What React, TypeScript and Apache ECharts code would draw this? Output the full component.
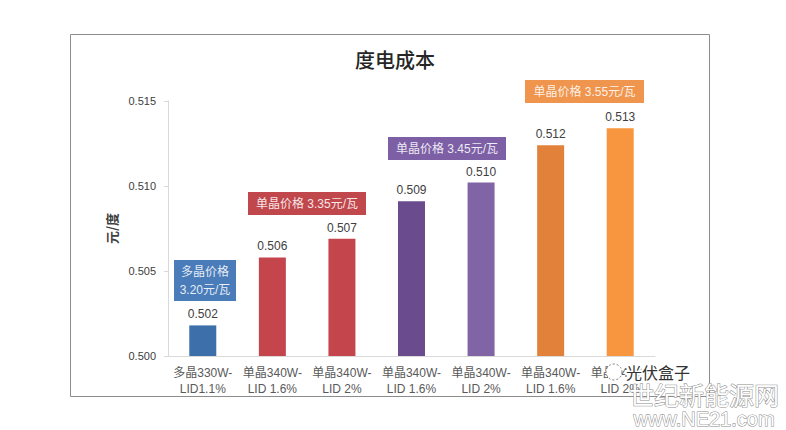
import React, { useEffect, useRef } from "react";
import * as echarts from "echarts";

const title = "度电成本";
const yAxisName = "元/度";
const categories = [
  "多晶330W-\nLID1.1%",
  "单晶340W-\nLID 1.6%",
  "单晶340W-\nLID 2%",
  "单晶340W-\nLID 1.6%",
  "单晶340W-\nLID 2%",
  "单晶340W-\nLID 1.6%",
  "单晶340W-\nLID 2%",
];
const values = [0.5018, 0.5058, 0.5069, 0.5091, 0.5102, 0.5124, 0.5134];
const barColors = ["#3d6fab", "#c4464c", "#c4464c", "#6a4c8e", "#8164a5", "#e2823a", "#f7963f"];
const yMin = 0.5;
const yMax = 0.515;
const yInterval = 0.005;

const annotationTexts = ["多晶价格\n3.20元/瓦", "单晶价格 3.35元/瓦", "单晶价格 3.45元/瓦", "单晶价格 3.55元/瓦"];
const annotationColors = ["#4a7cb9", "#c0484c", "#7d5fa6", "#f0954d"];

const FONT = "'Liberation Sans', 'Noto Sans CJK SC', sans-serif";

export default function App() {
  const ref = useRef<HTMLDivElement>(null);
  useEffect(() => {
    const chart = echarts.init(ref.current!, undefined, { renderer: "svg" });
    const boxes = [
      { x: 174, y: 260, w: 62, h: 41 },
      { x: 248, y: 192, w: 118, h: 23 },
      { x: 388, y: 137, w: 118, h: 23 },
      { x: 525, y: 80, w: 119, h: 23 },
    ];
    const annotationGraphics = boxes.map((b, i) => ({
      type: "group",
      x: b.x,
      y: b.y,
      z: 50,
      children: [
        { type: "rect", shape: { x: 0, y: 0, width: b.w, height: b.h }, style: { fill: annotationColors[i] } },
        {
          type: "text",
          x: b.w / 2,
          y: b.h / 2,
          style: {
            text: annotationTexts[i],
            fill: "rgba(255,255,255,0.88)",
            font: `12px ${FONT}`,
            align: "center",
            verticalAlign: "middle",
            lineHeight: 18,
          },
        },
      ],
    }));
    chart.setOption({
      animation: false,
      backgroundColor: "#ffffff",
      title: {
        text: title,
        left: 390,
        textAlign: "center",
        top: 44,
        textStyle: { fontFamily: "'Noto Sans CJK SC', sans-serif", fontSize: 20, fontWeight: 500, color: "#262626" },
      },
      grid: { left: 168, right: 131, top: 101, bottom: 74, containLabel: false },
      xAxis: {
        type: "category",
        data: categories,
        axisLine: { lineStyle: { color: "#d9d9d9", width: 1 } },
        axisTick: { show: false },
        axisLabel: { color: "#595959", fontSize: 12, fontFamily: FONT, lineHeight: 16, margin: 9, interval: 0 },
      },
      yAxis: {
        type: "value",
        min: yMin,
        max: yMax,
        interval: yInterval,
        name: yAxisName,
        nameLocation: "middle",
        nameRotate: 90,
        nameGap: 47,
        nameTextStyle: { fontSize: 13, color: "#404040", fontFamily: "'Noto Sans CJK SC', serif", fontWeight: "bold" },
        axisLine: { show: true, lineStyle: { color: "#d9d9d9" } },
        axisTick: { show: true, length: 4, lineStyle: { color: "#d9d9d9" } },
        splitLine: { show: false },
        axisLabel: {
          color: "#404040",
          fontSize: 11,
          fontFamily: FONT,
          margin: 12,
          formatter: (v: number) => v.toFixed(3),
        },
      },
      series: [
        {
          type: "bar",
          data: values.map((v, i) => ({ value: v, itemStyle: { color: barColors[i] } })),
          barWidth: 27,
          label: {
            show: true,
            position: "top",
            distance: 5,
            color: "#404040",
            fontSize: 12,
            fontFamily: FONT,
            formatter: (p: any) => Number(p.value).toFixed(3),
          },
        },
      ],
      graphic: [
        {
          type: "rect",
          z: 1,
          shape: { x: 70.5, y: 34.5, width: 639, height: 362 },
          style: { fill: "none", stroke: "#8c8c8c", lineWidth: 1 },
        },
        ...annotationGraphics,
        {
          type: "circle",
          z: 60,
          shape: { cx: 614, cy: 372, r: 8 },
          style: { fill: "#ffffff", stroke: "#777", lineWidth: 1, lineDash: [2, 2] },
        },
        {
          type: "text",
          z: 60,
          x: 626,
          y: 372,
          style: {
            text: "光伏盒子",
            font: "16px 'Noto Sans CJK SC', sans-serif",
            fill: "#333",
            stroke: "#ffffff",
            lineWidth: 4,
            verticalAlign: "middle",
          },
        },
        {
          type: "text",
          z: 60,
          x: 704,
          y: 394,
          style: {
            text: "世纪新能源网",
            font: "25px 'Noto Sans CJK SC', sans-serif",
            fill: "#ffffff",
            stroke: "#8a8a8a",
            lineWidth: 1,
            align: "center",
            verticalAlign: "middle",
          },
        },
        {
          type: "text",
          z: 60,
          x: 704,
          y: 419,
          style: {
            text: "www.NE21.com",
            font: "20px 'Liberation Sans', sans-serif",
            fill: "#ffffff",
            stroke: "#8a8a8a",
            lineWidth: 1,
            align: "center",
            verticalAlign: "middle",
          },
        },
      ],
    });
    return () => chart.dispose();
  }, []);
  return (
    <div
      ref={ref}
      style={{ position: "absolute", left: 0, top: 0, width: 786, height: 430, background: "#fff" }}
    />
  );
}
